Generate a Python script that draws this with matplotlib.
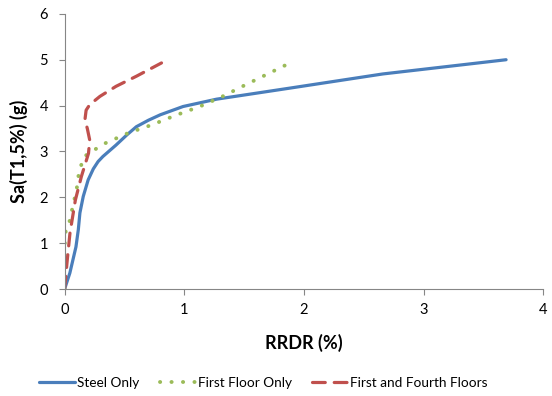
import matplotlib
matplotlib.use('Agg')
import matplotlib.pyplot as plt

plt.rcParams['font.family'] = ['Lato', 'DejaVu Sans']

# values
steel_x = [0, 0.044, 0.095, 0.115, 0.128, 0.156, 0.197, 0.24, 0.28, 0.32, 0.43, 0.52, 0.60, 0.70, 0.80,
           0.99, 1.27, 1.55, 1.88, 2.66, 3.69]
steel_y = [0, 0.35, 0.92, 1.30, 1.66, 2.02, 2.38, 2.62, 2.78, 2.89, 3.14, 3.36, 3.54, 3.68, 3.80,
           3.98, 4.14, 4.25, 4.38, 4.69, 5.0]

first_x = [0, 0.0, 0.0, 0.01, 0.04, 0.07, 0.10, 0.12, 0.16, 0.22, 0.34, 0.53, 0.73, 0.92, 1.13, 1.32, 1.51, 1.90]
first_y = [0, 0.38, 0.92, 1.29, 1.46, 1.82, 2.16, 2.54, 2.88, 2.99, 3.18, 3.40, 3.58, 3.78, 3.98, 4.20, 4.45, 4.95]

fourth_x = [0, 0.02, 0.045, 0.09, 0.14, 0.20, 0.21, 0.19, 0.17, 0.18, 0.21, 0.295, 0.43, 0.60, 0.81]
fourth_y = [0, 0.57, 1.22, 1.94, 2.45, 2.96, 3.25, 3.50, 3.69, 3.90, 4.02, 4.20, 4.42, 4.64, 4.93]

fig = plt.figure(figsize=(5.52, 3.96), dpi=100)
ax = fig.add_axes([0.117, 0.27, 0.867, 0.695])

ax.plot(steel_x, steel_y, color='#4A7EBB', lw=2.3, label='Steel Only',
        solid_capstyle='round', solid_joinstyle='round')
ax.plot(first_x, first_y, color='#9BBB59', lw=2.8, linestyle=(0, (0.05, 2.9)),
        dash_capstyle='round', label='First Floor Only')
ax.plot(fourth_x, fourth_y, color='#C0504D', lw=2.3, linestyle=(0, (4, 2.8)),
        dash_capstyle='round', label='First and Fourth Floors')

ax.set_xlim(0, 4)
ax.set_ylim(0, 6)
ax.set_xticks([0, 1, 2, 3, 4])
ax.set_yticks([0, 1, 2, 3, 4, 5, 6])
for s in ['top', 'right']:
    ax.spines[s].set_visible(False)
for s in ['left', 'bottom']:
    ax.spines[s].set_color('#868686')
ax.tick_params(colors='#868686', labelcolor='black', labelsize=10.5, length=4)
ax.tick_params(axis='x', pad=6)
ax.tick_params(axis='y', pad=8)

ax.set_xlabel('RRDR (%)', fontsize=13, fontweight='bold', labelpad=12)
ax.set_ylabel('Sa(T1,5%) (g)', fontsize=13, fontweight='bold', labelpad=8)

ax.legend(loc='upper center', bbox_to_anchor=(0.415, -0.275), ncol=3, frameon=False,
          fontsize=9.8, handlelength=2.7, handletextpad=0.1, columnspacing=1.5)

fig.savefig('out.png', dpi=100)
